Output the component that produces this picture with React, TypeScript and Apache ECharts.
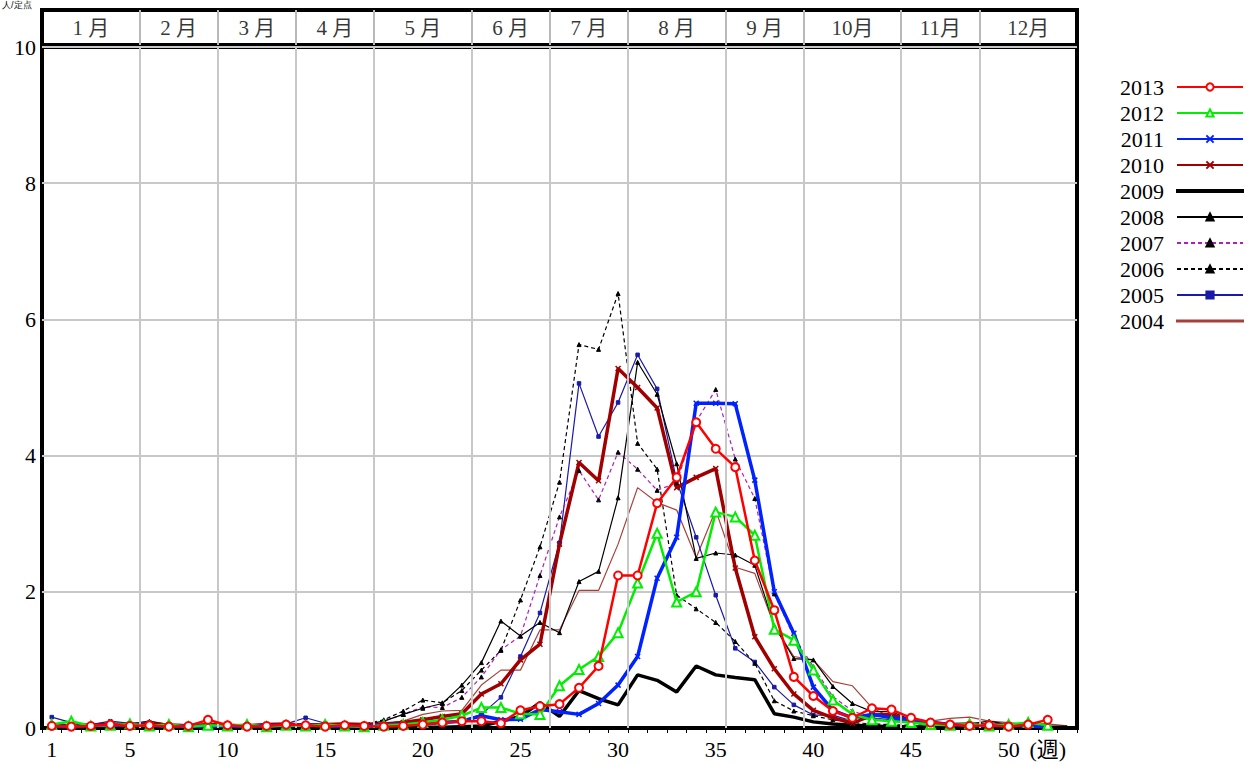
import { useEffect, useRef } from "react";
import * as echarts from "echarts";

const weeks = Array.from({ length: 53 }, (_, i) => String(i + 1));
const xLabelWeeks = [1, 5, 10, 15, 20, 25, 30, 35, 40, 45, 50];
const unitWeek = 52;
const unitLabel = "(週)";
const monthNames = ["1 月", "2 月", "3 月", "4 月", "5 月", "6 月", "7 月", "8 月", "9 月", "10月", "11月", "12月"];
const monthBounds = [0.5, 5.5, 9.5, 13.5, 17.5, 22.5, 26.5, 30.5, 35.5, 39.5, 44.5, 48.5, 53.5];
const yTicks = { min: 0, max: 10, interval: 2 };
const cornerText = "人/定点";

const legendOrder = ["2013", "2012", "2011", "2010", "2009", "2008", "2007", "2006", "2005", "2004"];

const y2013 = [0.03, 0.02, 0.03, 0.05, 0.03, 0.04, 0.02, 0.03, 0.12, 0.04, 0.02, 0.03, 0.05, 0.04, 0.02, 0.04, 0.03, 0.02, 0.03, 0.05, 0.08, 0.1, 0.1, 0.07, 0.26, 0.32, 0.35, 0.59, 0.91, 2.24, 2.24, 3.3, 3.68, 4.49, 4.1, 3.83, 2.46, 1.73, 0.75, 0.47, 0.25, 0.15, 0.29, 0.27, 0.15, 0.08, 0.05, 0.03, 0.04, 0.02, 0.05, 0.12];
const y2012 = [0.05, 0.1, 0.03, 0.04, 0.06, 0.03, 0.05, 0.02, 0.04, 0.03, 0.05, 0.02, 0.04, 0.03, 0.05, 0.03, 0.02, 0.04, 0.05, 0.08, 0.12, 0.18, 0.3, 0.3, 0.21, 0.2, 0.62, 0.86, 1.05, 1.4, 2.13, 2.86, 1.85, 2.0, 3.17, 3.1, 2.83, 1.45, 1.29, 0.85, 0.41, 0.2, 0.12, 0.1, 0.08, 0.05, 0.04, 0.06, 0.03, 0.05, 0.08, 0.04];
const y2011 = [0.03, 0.02, 0.04, 0.03, 0.05, 0.04, 0.02, 0.03, 0.02, 0.03, 0.02, 0.04, 0.03, 0.05, 0.03, 0.02, 0.03, 0.04, 0.05, 0.06, 0.08, 0.1, 0.18, 0.12, 0.13, 0.27, 0.24, 0.2, 0.36, 0.63, 1.05, 2.2, 2.8, 4.77, 4.77, 4.76, 3.64, 2.0, 1.39, 0.6, 0.26, 0.15, 0.2, 0.15, 0.12, 0.08, 0.05, 0.04, 0.03, 0.04, 0.03, 0.02];
const y2010 = [0.05, 0.03, 0.04, 0.06, 0.05, 0.07, 0.04, 0.03, 0.05, 0.04, 0.03, 0.05, 0.06, 0.04, 0.05, 0.06, 0.05, 0.06, 0.08, 0.12, 0.17, 0.21, 0.5, 0.65, 1.0, 1.23, 2.7, 3.9, 3.63, 5.28, 5.0, 4.7, 3.53, 3.68, 3.81, 2.35, 1.34, 0.87, 0.5, 0.26, 0.15, 0.07, 0.19, 0.2, 0.1, 0.08, 0.05, 0.06, 0.04, 0.05, 0.03, 0.04];
const y2009 = [0.01, 0.0, 0.01, 0.0, 0.01, 0.0, 0.0, 0.01, 0.0, 0.0, 0.01, 0.0, 0.0, 0.01, 0.0, 0.0, 0.01, 0.0, 0.01, 0.01, 0.01, 0.02, 0.03, 0.1, 0.17, 0.37, 0.17, 0.55, 0.43, 0.34, 0.78, 0.7, 0.53, 0.91, 0.78, 0.74, 0.71, 0.21, 0.16, 0.09, 0.06, 0.04, 0.03, 0.02, 0.02, 0.01, 0.01, 0.02, 0.01, 0.01, 0.0, 0.01, 0.01];
const y2008 = [0.04, 0.03, 0.05, 0.04, 0.06, 0.1, 0.05, 0.04, 0.03, 0.05, 0.04, 0.03, 0.05, 0.06, 0.04, 0.07, 0.05, 0.1, 0.2, 0.29, 0.36, 0.63, 0.96, 1.57, 1.35, 1.55, 1.4, 2.15, 2.3, 3.38, 5.37, 4.9, 3.88, 2.49, 2.57, 2.54, 2.39, 1.5, 1.02, 1.0, 0.61, 0.36, 0.24, 0.24, 0.12, 0.08, 0.05, 0.06, 0.1, 0.05, 0.04, 0.06];
const y2007 = [0.05, 0.04, 0.06, 0.05, 0.03, 0.05, 0.04, 0.06, 0.04, 0.03, 0.05, 0.04, 0.06, 0.05, 0.04, 0.06, 0.05, 0.1, 0.2, 0.31, 0.3, 0.45, 0.75, 1.15, 1.35, 2.24, 3.1, 3.78, 3.35, 4.05, 3.8, 3.49, 3.6, 4.5, 4.97, 3.95, 3.37, 1.97, 1.34, 0.9, 0.46, 0.25, 0.15, 0.1, 0.08, 0.06, 0.05, 0.04, 0.06, 0.04, 0.05, 0.03];
const y2006 = [0.03, 0.05, 0.04, 0.03, 0.05, 0.04, 0.03, 0.05, 0.04, 0.03, 0.04, 0.05, 0.03, 0.04, 0.05, 0.04, 0.06, 0.12, 0.25, 0.41, 0.37, 0.55, 0.85, 1.14, 1.88, 2.66, 3.61, 5.63, 5.56, 6.38, 4.18, 3.8, 1.95, 1.75, 1.55, 1.27, 0.95, 0.4, 0.25, 0.18, 0.12, 0.08, 0.06, 0.05, 0.04, 0.05, 0.03, 0.04, 0.05, 0.03, 0.04, 0.03];
const y2005 = [0.16, 0.08, 0.05, 0.1, 0.07, 0.05, 0.04, 0.03, 0.05, 0.04, 0.03, 0.05, 0.06, 0.15, 0.07, 0.05, 0.04, 0.03, 0.05, 0.06, 0.08, 0.1, 0.2, 0.45, 1.05, 1.69, 2.72, 5.06, 4.28, 4.78, 5.48, 4.98, 3.63, 2.8, 1.95, 1.17, 0.97, 0.6, 0.34, 0.19, 0.19, 0.1, 0.15, 0.12, 0.1, 0.08, 0.06, 0.05, 0.04, 0.03, 0.05, 0.04];
const y2004 = [0.04, 0.05, 0.03, 0.06, 0.05, 0.04, 0.06, 0.05, 0.04, 0.03, 0.05, 0.06, 0.04, 0.05, 0.06, 0.07, 0.05, 0.06, 0.1, 0.2, 0.25, 0.26, 0.63, 0.85, 0.85, 1.44, 1.44, 2.02, 2.02, 2.7, 3.53, 3.31, 3.2, 2.5, 3.2, 2.36, 2.27, 1.5, 1.05, 1.0, 0.68, 0.62, 0.3, 0.15, 0.12, 0.1, 0.14, 0.16, 0.1, 0.08, 0.05, 0.06, 0.03];

const FONT = "'Liberation Serif', 'DejaVu Serif', 'Noto Sans CJK JP', serif";
const xMarker = "path://M0,0L10,10M10,0L0,10";
const thickBar = "path://M0,0H60V1.8H0Z";
const thinBar = "path://M0,0H60V0.7H0Z";

export default function App() {
  const ref = useRef<HTMLDivElement>(null);
  useEffect(() => {
    if (!ref.current) return;
    const chart = echarts.init(ref.current, undefined, { renderer: "svg" });

    const mk = (
      name: string,
      data: number[],
      color: string,
      width: number,
      opts: any = {}
    ) => ({
      name,
      type: "line",
      xAxisIndex: 1,
      yAxisIndex: 1,
      data,
      showAllSymbol: true,
      symbol: opts.symbol ?? "none",
      symbolSize: opts.symbolSize ?? 4,
      lineStyle: { color, width, type: opts.dash ? [4, 3] : "solid" },
      itemStyle: {
        color: opts.markerColor ?? color,
        borderColor: opts.markerBorder ?? opts.markerColor ?? color,
        borderWidth: opts.borderWidth ?? 1,
      },
      z: opts.z ?? 3,
    });

    const innerBounds = monthBounds.slice(1, -1).map((b) => ({ xAxis: b }));

    chart.setOption({
      animation: false,
      backgroundColor: "#ffffff",
      textStyle: { fontFamily: FONT },
      grid: [
        { left: 42, right: 171, top: 10, height: 35, show: true, borderColor: "#000", borderWidth: 4, backgroundColor: "#fff" },
        { left: 42, right: 171, top: 47, bottom: 37, show: true, borderColor: "#000", borderWidth: 4, backgroundColor: "#fff" },
      ],
      xAxis: [
        { type: "value", gridIndex: 0, min: 0.5, max: 53.5, show: false },
        {
          type: "category",
          gridIndex: 1,
          data: weeks,
          boundaryGap: true,
          axisLine: { show: true, lineStyle: { color: "#000", width: 3 } },
          axisTick: { show: true, interval: 0, length: 5, lineStyle: { color: "#000", width: 1 } },
          axisLabel: {
            interval: (index: number) => xLabelWeeks.includes(index + 1) || index + 1 === unitWeek,
            formatter: (v: string) => (Number(v) === unitWeek ? unitLabel : v),
            fontSize: 22,
            color: "#000",
            fontFamily: FONT,
            margin: 10,
          },
          splitLine: { show: false },
        },
        { type: "value", gridIndex: 1, min: 0.5, max: 53.5, show: false },
      ],
      yAxis: [
        { type: "value", gridIndex: 0, min: 0, max: 1, show: false },
        {
          type: "value",
          gridIndex: 1,
          min: yTicks.min,
          max: yTicks.max,
          interval: yTicks.interval,
          axisLine: { show: false },
          axisTick: { show: false },
          axisLabel: { fontSize: 22, color: "#000", fontFamily: FONT, margin: 6 },
          splitLine: { show: true, lineStyle: { color: "#c8c8c8", width: 2 } },
        },
      ],
      legend: {
        data: legendOrder.map((n) =>
          n === "2009" ? { name: n, icon: thickBar } : n === "2004" ? { name: n, icon: thinBar } : { name: n }
        ),
        orient: "vertical",
        left: 1115,
        top: 71,
        align: "right",
        itemWidth: 66,
        itemHeight: 9,
        itemGap: 4,
        textStyle: { fontSize: 22, color: "#000", fontFamily: FONT, padding: [0, 8, 0, 0] },
      },
      graphic: [
        {
          type: "text",
          left: 2,
          top: 0,
          style: { text: cornerText, fontSize: 9, fill: "#000", font: `9px ${FONT}` },
        },
      ],
      series: [
        {
          name: "months",
          type: "scatter",
          xAxisIndex: 0,
          yAxisIndex: 0,
          symbol: "circle",
          symbolSize: 1,
          itemStyle: { color: "rgba(0,0,0,0)" },
          silent: true,
          data: monthNames.map((n, i) => ({ name: n, value: [(monthBounds[i] + monthBounds[i + 1]) / 2, 0.5] })),
          label: { show: true, position: "inside", formatter: "{b}", fontSize: 21, color: "#000", fontFamily: FONT },
          markLine: {
            silent: true,
            symbol: "none",
            label: { show: false },
            lineStyle: { color: "#b8b8b8", width: 2, type: "solid" },
            data: innerBounds,
          },
        },
        {
          name: "monthLines",
          type: "line",
          xAxisIndex: 2,
          yAxisIndex: 1,
          data: [],
          z: 1,
          silent: true,
          markLine: {
            silent: true,
            symbol: "none",
            label: { show: false },
            lineStyle: { color: "#c8c8c8", width: 2, type: "solid" },
            data: innerBounds,
          },
        },
        mk("2004", y2004, "#a8403a", 1.2),
        mk("2005", y2005, "#1a1aa8", 1.2, { symbol: "rect", symbolSize: 3.5 }),
        mk("2006", y2006, "#000000", 1.2, { dash: true, symbol: "triangle", symbolSize: 4 }),
        mk("2007", y2007, "#b01ec0", 1.2, { dash: true, symbol: "triangle", symbolSize: 4, markerColor: "#000" }),
        mk("2008", y2008, "#000000", 1.2, { symbol: "triangle", symbolSize: 4 }),
        mk("2009", y2009, "#000000", 3.5),
        mk("2010", y2010, "#a00000", 3.5, { symbol: xMarker, symbolSize: 5, borderWidth: 1.5 }),
        mk("2011", y2011, "#0022ff", 3.5, { symbol: xMarker, symbolSize: 5, borderWidth: 1.5 }),
        mk("2012", y2012, "#00ee00", 2.5, { symbol: "emptyTriangle", symbolSize: 9, borderWidth: 1.5, z: 4 }),
        mk("2013", y2013, "#ff0000", 2.5, { symbol: "emptyCircle", symbolSize: 8, borderWidth: 1.5, z: 5 }),
      ],
    });
    return () => chart.dispose();
  }, []);

  return (
    <div
      ref={ref}
      style={{ position: "fixed", left: 0, top: 0, width: 1248, height: 765, background: "#fff" }}
    />
  );
}
